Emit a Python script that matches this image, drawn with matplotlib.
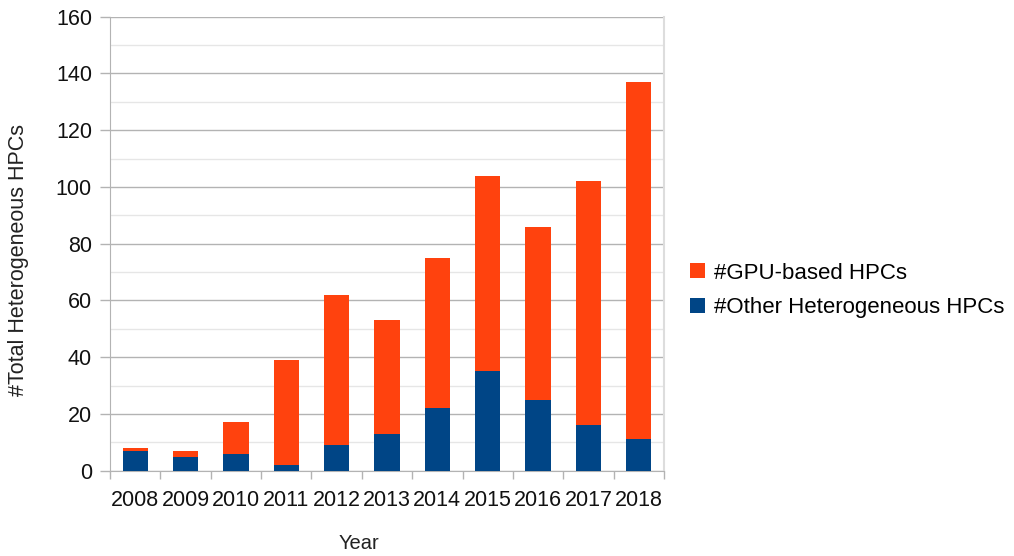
import matplotlib.pyplot as plt
import numpy as np
from matplotlib.ticker import MultipleLocator

plt.rcParams['font.family'] = ['Liberation Sans', 'DejaVu Sans']

# dane
lata = ['2008', '2009', '2010', '2011', '2012', '2013', '2014', '2015', '2016', '2017', '2018']
inne = [7, 5, 6, 2, 9, 13, 22, 35, 25, 16, 11]
gpu = [1, 2, 11, 37, 53, 40, 53, 69, 61, 86, 126]

kolor_gpu = '#ff420e'
kolor_inne = '#004586'

fig = plt.figure(figsize=(10.14, 5.56), dpi=100)
ax = fig.add_axes([0.1085, 0.1534, 0.5463, 0.8165])

x = np.arange(len(lata))
b1 = ax.bar(x, inne, width=0.5, color=kolor_inne, zorder=3)
b2 = ax.bar(x, gpu, width=0.5, bottom=inne, color=kolor_gpu, zorder=3)

ax.set_xlim(-0.5, len(lata) - 0.5)
ax.set_ylim(0, 160)
ax.yaxis.set_major_locator(MultipleLocator(20))
ax.yaxis.set_minor_locator(MultipleLocator(10))
ax.grid(which='major', axis='y', color='#b3b3b3', linewidth=1, zorder=0)
ax.grid(which='minor', axis='y', color='#e6e6e6', linewidth=1, zorder=0)

# podzialki na granicach kategorii (jak w LibreOffice)
ax.set_xticks(x)
ax.set_xticklabels(lata)
ax.set_xticks(np.arange(-0.5, len(lata)), minor=True)
ax.tick_params(axis='x', which='major', length=0, labelsize=15.5, colors='#111111', pad=14)
ax.tick_params(axis='x', which='minor', length=6, color='#b3b3b3', width=1)
ax.tick_params(axis='y', which='major', length=7, color='#b3b3b3', width=1,
               labelsize=15.5, labelcolor='#111111', pad=6)
ax.tick_params(axis='y', which='minor', length=0)

for s in ['left', 'bottom']:
    ax.spines[s].set_color('#b3b3b3')
ax.spines['top'].set_visible(False)
ax.spines['right'].set_color('#dddddd')
ax.spines['right'].set_linewidth(1.5)

ax.set_xlabel('Year', fontsize=14.5, color='#222222')
ax.xaxis.set_label_coords((359 - 110) / 554, -(544 - 471) / 454, transform=ax.transAxes)
ax.xaxis.label.set_va('center')
ax.set_ylabel('#Total Heterogeneous HPCs', fontsize=15.5, color='#222222')
ax.yaxis.set_label_coords(-(110 - 18) / 554, (471 - 260) / 454, transform=ax.transAxes)
ax.yaxis.label.set_va('center')

fig.legend([b2, b1], ['#GPU-based HPCs', '#Other Heterogeneous HPCs'],
           loc='center left', bbox_to_anchor=(0.672, 0.478), frameon=False,
           fontsize=16, handlelength=0.65, handleheight=0.65, handletextpad=0.4,
           labelspacing=0.6, borderaxespad=0)

fig.savefig('out.png', dpi=100)
